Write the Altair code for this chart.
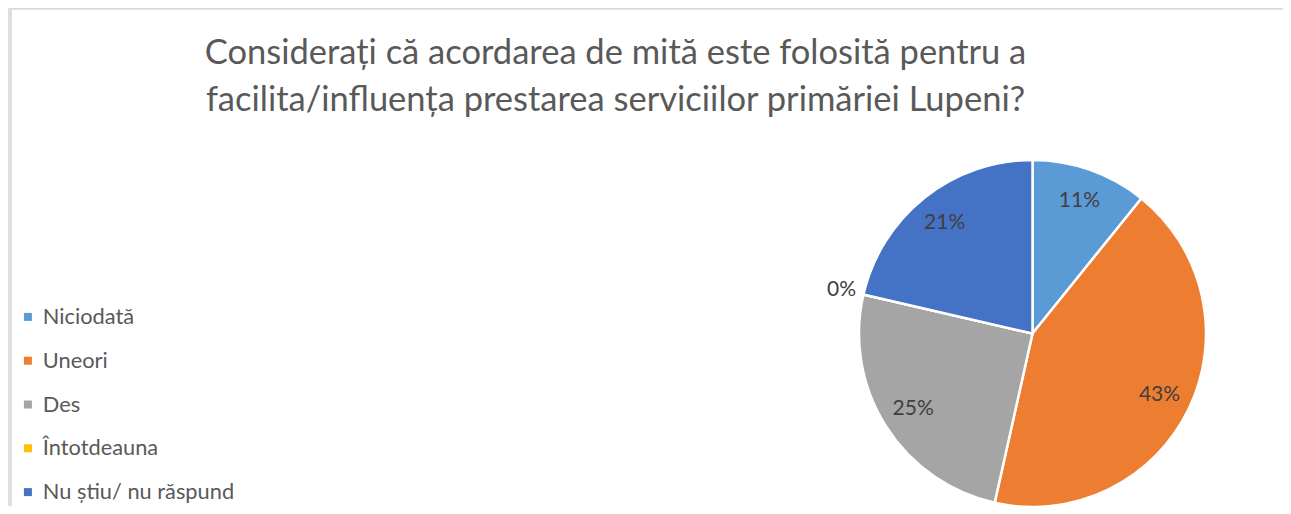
import altair as alt
import pandas as pd

categories = ["Niciodată", "Uneori", "Des", "Întotdeauna", "Nu știu/ nu răspund"]
values = [10.8, 42.7, 25.1, 0.0, 21.4]
labels = ["11%", "43%", "25%", "0%", "21%"]
colors = ["#5B9BD5", "#ED7D31", "#A5A5A5", "#FFC000", "#4472C4"]
title_lines = ["Considerați că acordarea de mită este folosită pentru a",
               "facilita/influența prestarea serviciilor primăriei Lupeni?"]

df = pd.DataFrame({"cat": categories, "value": values, "label": labels,
                   "idx": list(range(len(categories)))})
TOTAL = float(sum(values))

CX, CY, R = 1024.5, 325.5, 173.5
FONT = "Lato"
theta_scale = alt.Scale(domain=[0, TOTAL])

pie = alt.Chart(df).mark_arc(outerRadius=R, stroke="white", strokeWidth=2.5).encode(
    theta=alt.Theta("value:Q", stack=True, scale=theta_scale),
    order=alt.Order("idx:Q"),
    x=alt.value(CX), y=alt.value(CY),
    color=alt.Color("cat:N", sort=categories,
                    scale=alt.Scale(domain=categories, range=colors),
                    legend=alt.Legend(
                        title=None, orient="none", legendX=9, legendY=298,
                        direction="vertical", symbolType="square", symbolSize=64,
                        symbolStrokeWidth=0, labelFont=FONT, labelFontSize=21.8,
                        labelColor="#595959", rowPadding=20.8, labelOffset=4,
                        labelLimit=0, padding=0)),
)

text = alt.Chart(df).transform_window(
    cum="sum(value)", sort=[alt.SortField("idx")], frame=[None, 0]
).transform_calculate(
    mid="datum.cum - datum.value / 2",
    r="datum.value == 0 ? 196 : 141",
).mark_text(font=FONT, fontSize=21, color="#404040", align="center",
            baseline="middle").encode(
    theta=alt.Theta("mid:Q", stack=None, scale=theta_scale),
    radius=alt.Radius("r:Q", scale=None),
    x=alt.value(CX), y=alt.value(CY),
    text="label:N",
)

border_top = alt.Chart(df).mark_rule(color="#D9D9D9", strokeWidth=1.5).encode(
    x=alt.value(2.5), x2=alt.value(1275), y=alt.value(0.5))
border_left = alt.Chart(df).mark_rule(color="#D9D9D9", strokeWidth=1.5).encode(
    x=alt.value(2.5), y=alt.value(0), y2=alt.value(498))

chart = alt.layer(border_top, border_left, pie, text).properties(
    width=1275, height=498,
    title=alt.TitleParams(text=title_lines, font=FONT, fontSize=34.5,
                          fontWeight="normal", color="#595959",
                          anchor="middle", dx=-30, lineHeight=47,
                          baseline="alphabetic", offset=-138.5),
    autosize=alt.AutoSizeParams(type="none"),
    padding=0,
).configure_view(stroke=None).configure(background="white")

chart.save("out.html", embed_options={"renderer": "svg", "actions": False})
